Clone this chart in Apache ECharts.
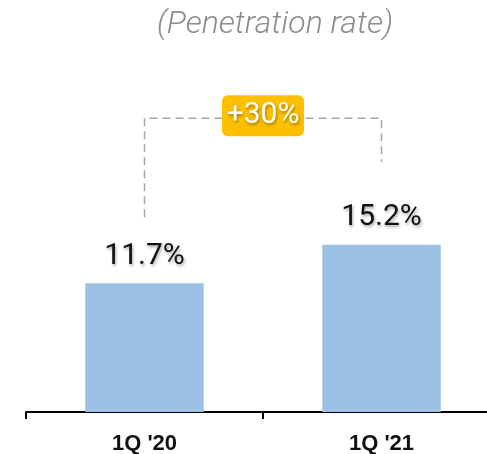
<!DOCTYPE html>
<html>
<head>
<meta charset="utf-8">
<script src="https://cdn.jsdelivr.net/npm/echarts@6/dist/echarts.min.js"></script>
<style>
  html, body { margin: 0; padding: 0; background: #fff; }
  #chart { width: 487px; height: 454px; }
</style>
</head>
<body>
<div id="chart"></div>
<script>
// Quarterly penetration rate
const categories = ['1Q \'20', '1Q \'21'];
const penetration = [11.7, 15.2];
const growthLabel = '+30%';
const subtitle = '(Penetration rate)';

const chart = echarts.init(document.getElementById('chart'));

const option = {
  animation: false,
  backgroundColor: '#ffffff',
  title: {
    text: subtitle,
    left: 270,
    top: 4,
    textAlign: 'center',
    textStyle: {
      fontFamily: 'Roboto',
      fontStyle: 'italic',
      fontWeight: 300,
      fontSize: 32,
      color: '#8c8c8c'
    }
  },
  grid: { left: 26, top: 82, width: 474, height: 330, containLabel: false, outerBoundsMode: 'none' },
  xAxis: {
    type: 'category',
    data: categories,
    boundaryGap: true,
    axisLine: { lineStyle: { color: '#000', width: 2 } },
    axisTick: { show: true, length: 7, lineStyle: { color: '#000', width: 2 } },
    axisLabel: {
      margin: 21,
      fontFamily: 'Liberation Sans',
      fontWeight: 'bold',
      fontSize: 22,
      color: '#111'
    }
  },
  yAxis: {
    type: 'value',
    min: 0,
    max: 30,
    show: false,
    splitLine: { show: false }
  },
  series: [{
    type: 'bar',
    data: penetration,
    barWidth: '50%',
    itemStyle: { color: '#9dc0e5' },
    label: {
      show: true,
      position: 'top',
      distance: 12,
      formatter: p => p.value.toFixed(1) + '%',
      fontFamily: 'Roboto',
      fontSize: 30,
      color: '#111',
      textShadowColor: 'rgba(0,0,0,0.35)',
      textShadowBlur: 3,
      textShadowOffsetX: 1,
      textShadowOffsetY: 2
    }
  }]
};

chart.setOption(option);

// Growth bracket between the two bars, anchored to the category centres
function drawBracket() {
  const x0 = chart.convertToPixel({ xAxisIndex: 0 }, categories[0]);
  const x1 = chart.convertToPixel({ xAxisIndex: 0 }, categories[1]);
  const yTop = chart.convertToPixel({ yAxisIndex: 0 }, penetration[1] + 11.5);
  const yLeft = chart.convertToPixel({ yAxisIndex: 0 }, penetration[0] + 6.0);
  const yRight = chart.convertToPixel({ yAxisIndex: 0 }, penetration[1] + 7.5);
  const dash = { stroke: '#a6a6a6', lineWidth: 1.5, lineDash: [8, 5] };
  const mid = (x0 + x1) / 2;
  chart.setOption({
    graphic: [
      { type: 'polyline', silent: true, z: 10,
        shape: { points: [[x0, yLeft], [x0, yTop], [x1, yTop], [x1, yRight]] },
        style: Object.assign({ fill: null }, dash) },
      { type: 'rect', z: 20, silent: true,
        shape: { x: mid - 41, y: yTop - 23, width: 82, height: 41, r: 6 },
        style: { fill: '#fdbf00' } },
      { type: 'text', z: 30, silent: true,
        x: mid, y: yTop - 2.5,
        style: {
          text: growthLabel,
          align: 'center',
          verticalAlign: 'middle',
          fontFamily: 'Roboto',
          fontSize: 30,
          fill: '#ffffff',
          textShadowColor: 'rgba(0,0,0,0.35)',
          textShadowBlur: 3,
          textShadowOffsetX: 1,
          textShadowOffsetY: 2
        } }
    ]
  });
}
drawBracket();
</script>
</body>
</html>
